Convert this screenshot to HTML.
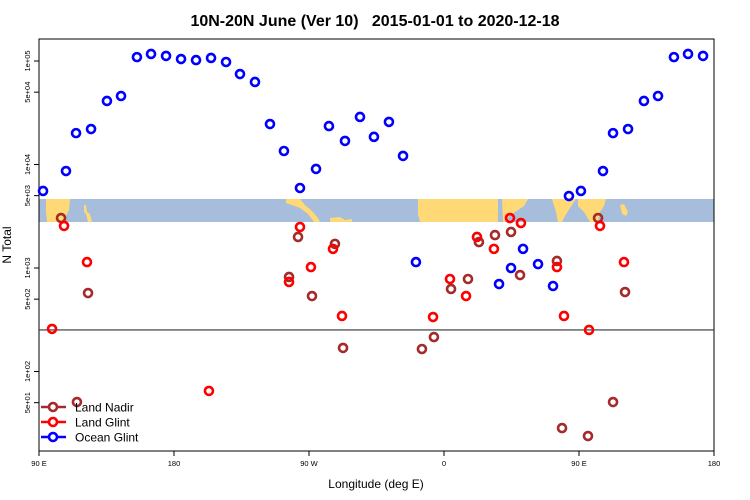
<!DOCTYPE html>
<html><head><meta charset="utf-8"><style>
body{margin:0;background:#fff;}
svg{display:block;font-family:"Liberation Sans",sans-serif;}
</style></head><body>
<svg id="chart" width="750" height="500">
<text x="375" y="26" text-anchor="middle" font-size="16" font-weight="bold" style="white-space:pre">10N-20N June (Ver 10)   2015-01-01 to 2020-12-18</text>
<text x="0" y="0" transform="translate(11,245) rotate(-90)" text-anchor="middle" font-size="12">N Total</text>
<text x="376" y="488" text-anchor="middle" font-size="12">Longitude (deg E)</text>
<g id="map"></g>
<g id="axes"></g>
<g id="points"></g>
<g id="legend"></g>
</svg>
<script>
const xTickLons=[90,180,270,360,450,540];
const xTickLabels=["90 E","180","90 W","0","90 E","180"];
const yTickVals=[100000,50000,10000,5000,1000,500,100,50];
const yTickLabels=["1e+05","5e+04","1e+04","5e+03","1e+03","5e+02","1e+02","5e+01"];
const refLineValue=252;
const oceanLon=[92.7,108,114.7,124.7,135.3,144.7,155.3,164.7,174.7,184.7,194.7,204.7,214.7,224,234,244,253.3,264,274.7,283.3,294,304,313.3,323.3,332.7,341.3,396.7,404.7,412.7,422.7,432.7,443.3,451.3,466,472.7,482.7,493.3,502.7,513.3,522.7,532.7];
const oceanVal=[5550,8650,20100,22000,41100,45900,109000,117000,112000,104500,102000,107000,97800,74800,62700,24600,13500,5930,9060,23500,16900,28800,18500,25800,12100,1140,700,1000,1530,1090,670,4960,5550,8650,20100,22000,41100,45900,109000,117000,112000];
const glintLon=[98.7,106.7,122,203.3,256.7,264,271.3,286,292,352.7,364,374.7,382,393.3,404,411.3,435.3,440,456.7,464,480];
const glintVal=[258,2550,1140,64.9,733,2490,1020,1530,344,336,783,536,1995,1530,3040,2720,1020,344,252,2550,1140];
const nadirLon=[104.7,115.3,122.7,256.7,262.7,272,287.3,292.7,345.3,353.3,364.7,376,383.3,394,404.7,410.7,435.3,438.7,456,462.7,472.7,480.7];
const nadirVal=[3040,50.7,573,819,1995,536,1710,169,165,215,627,783,1780,2080,2230,855,1170,28.4,23.8,3040,50.7,586];

const NS="http://www.w3.org/2000/svg";
const L=39,R=714,T=39,B=451;
const xs=lon=>L+(lon-90)*(R-L)/450;
const ys=v=>61+(5-Math.log10(v))*103.5;
function mk(tag,attrs,parent){const e=document.createElementNS(NS,tag);for(const k in attrs)e.setAttribute(k,attrs[k]);parent.appendChild(e);return e;}

const map=document.getElementById('map');
mk('rect',{x:L,y:199,width:R-L,height:23,fill:'#a6bddb'},map);
const land=[
 "46,199 70,199 69,210 66,216 62,222 47,222 46,212",
 "84,205 86,205 87,212 90,214 92,222 88,222 86,214 84,212",
 "286,199 300,199 305,205 312,211 318,218 320,222 314,222 308,214 300,208 292,205 286,203",
 "330,218 340,217 345,220 352,219 352,222 330,222",
 "418,199 498,199 498,222 420,222 418,214",
 "502,199 528,199 524,206 518,210 512,214 507,218 505,222 503,222",
 "552,199 576,199 570,208 565,216 562,222 558,222 556,212",
 "578,199 606,199 604,206 600,212 598,222 590,222 584,212 578,206",
 "620,205 624,204 628,212 626,216 622,214"
];
land.forEach(p=>{
  const e=mk('polygon',{points:p,fill:'#fed976'},map);
  
  
});

const ax=document.getElementById('axes');
const fr=mk('rect',{x:L,y:T,width:R-L,height:B-T,fill:'none',stroke:'#000','stroke-width':1},ax);


xTickLons.forEach((lon,i)=>{
  const x=xs(lon);
  mk('line',{x1:x,x2:x,y1:B,y2:B+5,stroke:'#000'},ax);
  const t=mk('text',{x:x,y:B+15,'text-anchor':'middle','font-size':7.5},ax);
  t.textContent=xTickLabels[i];
  
  
});
yTickVals.forEach((v,i)=>{
  const y=ys(v);
  mk('line',{x1:L-5,x2:L,y1:y,y2:y,stroke:'#000'},ax);
  const t=mk('text',{x:0,y:0,transform:`translate(30,${y}) rotate(-90)`,'text-anchor':'middle','font-size':7.5},ax);
  t.textContent=yTickLabels[i];
  
  
});
const rl=mk('line',{x1:L,x2:R,y1:ys(refLineValue),y2:ys(refLineValue),stroke:'#333','stroke-width':1.2},ax);



const pg=document.getElementById('points');
function series(lons,vals,color,name){
  lons.forEach((lon,i)=>{
    const c=mk('circle',{cx:xs(lon),cy:ys(vals[i]),r:4,fill:'none',stroke:color,'stroke-width':2.6},pg);
    
    
  });
}
series(oceanLon,oceanVal,'#0000ff','ocean-glint');
series(nadirLon,nadirVal,'#a52a2a','land-nadir');
series(glintLon,glintVal,'#ff0000','land-glint');

const lg=document.getElementById('legend');
[["Land Nadir","#a52a2a",407],["Land Glint","#ff0000",422],["Ocean Glint","#0000ff",437]].forEach(d=>{
  const g=mk('g',{},lg);
  
  
  mk('line',{x1:41,x2:66,y1:d[2],y2:d[2],stroke:d[1],'stroke-width':2.6},g);
  mk('circle',{cx:53,cy:d[2],r:4,fill:'#fff',stroke:d[1],'stroke-width':2.6},g);
  const t=mk('text',{x:75,y:d[2]+4.5,'font-size':12},g);
  t.textContent=d[0];
});
</script>
</body></html>
